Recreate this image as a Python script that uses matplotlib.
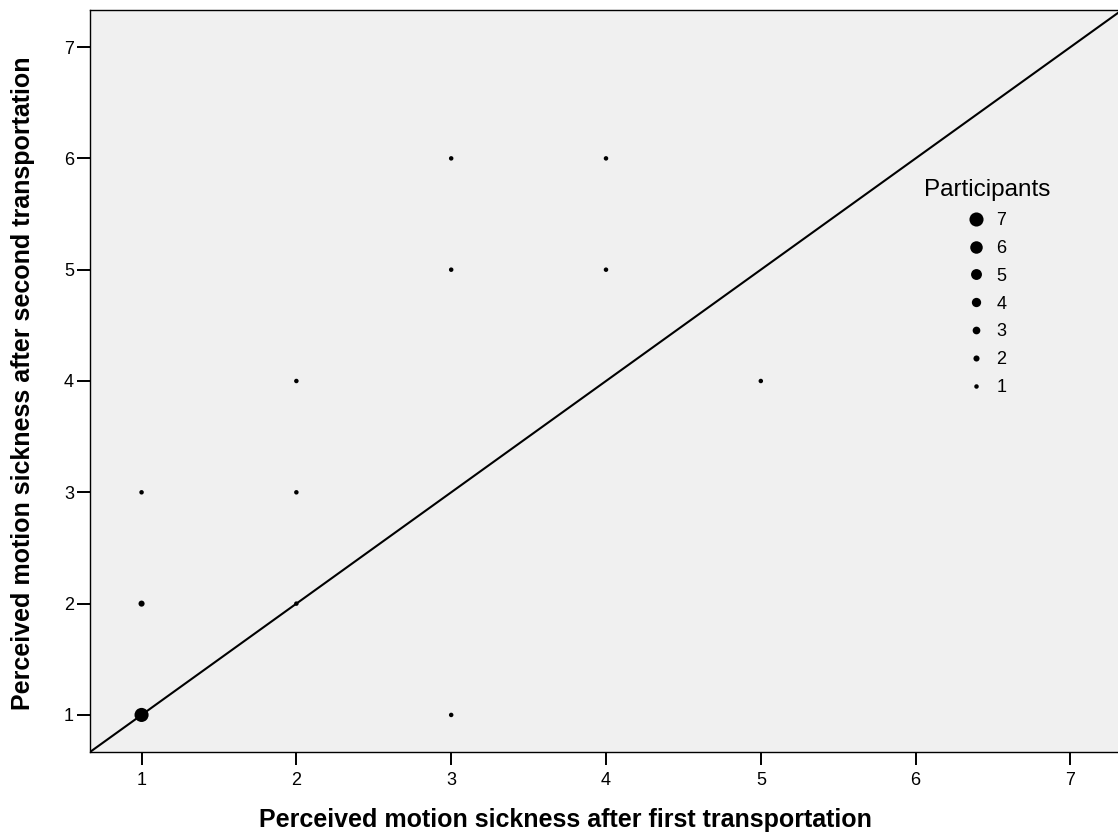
import matplotlib
matplotlib.use("Agg")
import matplotlib.pyplot as plt
from matplotlib.lines import Line2D

plt.rcParams['font.family'] = ['Liberation Sans', 'DejaVu Sans']

# observed combinations (first, second) and number of participants at each
first  = [1, 1, 1, 2, 2, 2, 3, 3, 3, 4, 4, 5]
second = [1, 2, 3, 2, 3, 4, 1, 5, 6, 5, 6, 4]
count  = [7, 2, 1, 1, 1, 1, 1, 1, 1, 1, 1, 1]

legend_counts = [7, 6, 5, 4, 3, 2, 1]
ticks = [1, 2, 3, 4, 5, 6, 7]

# marker diameter in pixels for a given count
def diam(n):
    return 4.5 + (n - 1) * 1.6

fig = plt.figure(figsize=(11.18, 8.34), dpi=100)
ax = fig.add_axes([90/1118, 82/834, 1032/1118, 742/834])
ax.set_facecolor('#f0f0f0')

ax.scatter(first, second, s=[(diam(c)*0.72)**2 for c in count],
           color='black', edgecolors='none', zorder=3)
ax.axline((0, 0), (1, 1), color='black', lw=1.5, zorder=2)

ax.set_xlim(0.667, 7.333)
ax.set_ylim(0.667, 7.333)
ax.set_xticks(ticks)
ax.set_yticks(ticks)
ax.tick_params(axis='both', direction='out', length=9.5, width=1.4, labelsize=13)
ax.tick_params(axis='x', pad=5)
ax.tick_params(axis='y', pad=2)
ax.spines['right'].set_visible(False)
for s in ['left', 'bottom', 'top']:
    ax.spines[s].set_linewidth(1.0)

handles = [Line2D([], [], ls='none', marker='o', color='black',
                  markersize=diam(c)*0.72, markeredgewidth=0) for c in legend_counts]
leg = ax.legend(handles, [str(c) for c in legend_counts], title='Participants',
                frameon=False, loc='upper center', bbox_to_anchor=(0.869, 0.784),
                fontsize=13, title_fontsize=17.5, labelspacing=0.6,
                handlelength=1.0, handletextpad=0.6, borderpad=0)

fig.text(565/1118, 1 - 820/834, 'Perceived motion sickness after first transportation',
         ha='center', va='center', fontsize=18, fontweight='bold')
fig.text(23/1118, 1 - 383/834, 'Perceived motion sickness after second transportation',
         ha='center', va='center', rotation=90, fontsize=18, fontweight='bold')

fig.savefig('out.png', dpi=100)
